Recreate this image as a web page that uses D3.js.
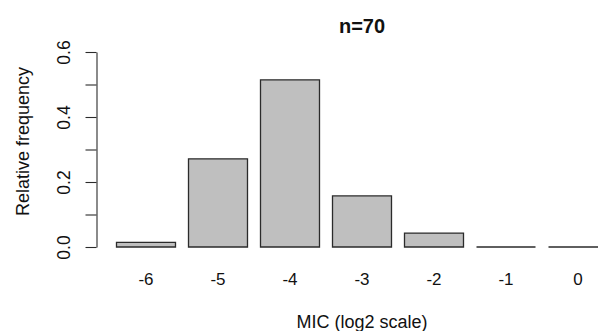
<!DOCTYPE html>
<html>
<head>
<meta charset="utf-8">
<script src="https://cdn.jsdelivr.net/npm/d3@7/dist/d3.min.js"></script>
<style>
  html, body { margin: 0; padding: 0; background: #fff; }
  svg { display: block; }
  text { font-family: "Liberation Sans", Arial, sans-serif; fill: #111; }
</style>
</head>
<body>
<script>
// MIC distribution (log2 dilution steps) and isolate counts per step
const micLevels = ["-6", "-5", "-4", "-3", "-2", "-1", "0"];
const isolateCounts = [1, 19, 36, 11, 3, 0, 0];
const yTicks = [0, 0.1, 0.2, 0.3, 0.4, 0.5, 0.6];
const yTickLabels = ["0.0", "", "0.2", "", "0.4", "", "0.6"];

const total = d3.sum(isolateCounts);
const relFreq = isolateCounts.map(c => c / total);

const W = 598, H = 331;
const svg = d3.select("body").append("svg")
  .attr("width", W).attr("height", H);

// plotting region
const plotLeft = 96.5, plotRight = 627.5;
const yBase = 247, yTop = 52;

const x = d3.scaleBand()
  .domain(micLevels)
  .range([110, 614])
  .paddingInner(1 / 6)
  .paddingOuter(1 / 12);

const y = d3.scaleLinear()
  .domain([0, 0.6])
  .range([yBase, yTop]);

// bars drawn as closed paths so that empty classes still show as a flat outline
svg.append("g")
  .selectAll("path")
  .data(micLevels.map((m, i) => ({ m, v: relFreq[i] })))
  .join("path")
  .attr("d", d => {
    const x0 = x(d.m) + 0.5, x1 = x(d.m) + x.bandwidth() - 0.5;
    const y0 = y(0), y1 = y(d.v);
    return `M${x0},${y0}L${x0},${y1}L${x1},${y1}L${x1},${y0}Z`;
  })
  .attr("fill", "#bfbfbf")
  .attr("stroke", "#2b2b2b")
  .attr("stroke-width", 1.3)
  .attr("stroke-linejoin", "miter");

// y axis
const yAxis = d3.axisLeft(y)
  .tickValues(yTicks)
  .tickFormat((d, i) => yTickLabels[i])
  .tickSize(11)
  .tickSizeOuter(0);

const gy = svg.append("g")
  .attr("transform", `translate(${plotLeft},0)`)
  .call(yAxis);
gy.select(".domain").attr("stroke", "#2b2b2b").attr("stroke-width", 1.1);
gy.selectAll(".tick line").attr("stroke", "#2b2b2b").attr("stroke-width", 1.1);
gy.selectAll(".tick text")
  .attr("font-size", 17.5)
  .attr("font-family", "Liberation Sans, Arial, sans-serif")
  .attr("fill", "#111")
  .attr("x", null).attr("dy", null)
  .attr("text-anchor", "middle")
  .attr("transform", "translate(-31.5,0) rotate(-90)")
  .attr("y", 0)
  .attr("dominant-baseline", "middle");

// x category labels (no axis line)
const xAxis = d3.axisBottom(x).tickSize(0).tickPadding(0);
const gx = svg.append("g")
  .attr("transform", `translate(0,${273})`)
  .call(xAxis);
gx.select(".domain").remove();
gx.selectAll(".tick text")
  .attr("font-size", 17)
  .attr("font-family", "Liberation Sans, Arial, sans-serif")
  .attr("fill", "#111")
  .attr("dy", "0.71em");

const cx = (plotLeft + plotRight) / 2;

// title
svg.append("text")
  .attr("x", cx).attr("y", 33)
  .attr("text-anchor", "middle")
  .attr("font-weight", "bold")
  .attr("font-size", 20)
  .attr("fill", "#000")
  .text("n=" + total);

// axis titles
svg.append("text")
  .attr("x", cx).attr("y", 328)
  .attr("text-anchor", "middle")
  .attr("font-size", 18)
  .text("MIC (log2 scale)");

svg.append("text")
  .attr("transform", `translate(24,${141.5}) rotate(-90)`)
  .attr("text-anchor", "middle")
  .attr("dominant-baseline", "middle")
  .attr("font-size", 18)
  .text("Relative frequency");
</script>
</body>
</html>
